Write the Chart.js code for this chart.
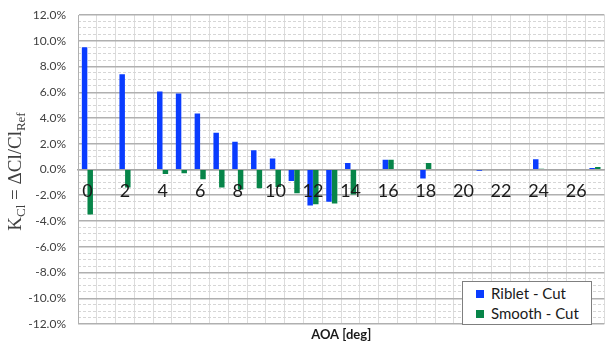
<!DOCTYPE html>
<html>
<head>
<meta charset="utf-8">
<script src="https://cdn.jsdelivr.net/npm/chart.js@4/dist/chart.umd.min.js"></script>
<style>
  html, body { margin: 0; padding: 0; background: #fff; }
  #wrap { position: relative; width: 606px; height: 346px; }
  #legend {
    position: absolute; left: 462px; top: 281px; width: 128px; height: 42px;
    border: 1.5px solid #7f7f7f; background: #fff;
    font-family: Lato, sans-serif; font-size: 15px; color: #1a1a1a;
  }
  #legend div { position: absolute; left: 13px; height: 20px; line-height: 20px; white-space: nowrap; }
  #legend span { display: inline-block; width: 8px; height: 8px; margin-right: 7px; vertical-align: 1px; }
</style>
</head>
<body>
<div id="wrap">
  <canvas id="chart" width="606" height="346"></canvas>
  <div id="legend"></div>
</div>
<script>
// AOA categories 0..27
const aoaLabels = ['0','1','2','3','4','5','6','7','8','9','10','11','12','13','14','15','16','17','18','19','20','21','22','23','24','25','26','27'];

// K_Cl in percent
const ribletCut = [9.5, null, 7.4, null, 6.05, 5.9, 4.35, 2.85, 2.15, 1.5, 0.85, -0.9, -2.8, -2.5, 0.5, null, 0.75, null, -0.7, null, null, -0.1, null, null, 0.8, null, null, 0.12];
const smoothCut = [-3.5, null, -1.4, null, -0.35, -0.3, -0.75, -1.4, -1.55, -1.45, -1.35, -1.85, -2.7, -2.65, -1.95, null, 0.75, null, 0.5, null, null, null, null, null, 0.05, null, null, 0.2];

const seriesNames = ['Riblet - Cut', 'Smooth - Cut'];
const seriesColors = ['#0a3cff', '#078549'];

// y title with subscripts, drawn on the canvas
const yTitlePlugin = {
  id: 'yTitle',
  afterDraw(chart) {
    const c = chart.ctx;
    const area = chart.chartArea;
    const parts = [
      ['K', 19, 0], ['Cl', 13, 4], [' = ΔCl/Cl', 19, 0], ['Ref', 13, 4]
    ];
    c.save();
    let total = 0;
    parts.forEach(p => { c.font = p[1] + 'px "Liberation Serif"'; total += c.measureText(p[0]).width; });
    c.translate(21, (area.top + area.bottom) / 2 + 2);
    c.rotate(-Math.PI / 2);
    c.fillStyle = '#404040';
    c.textBaseline = 'alphabetic';
    let x = -total / 2;
    parts.forEach(p => {
      c.font = p[1] + 'px "Liberation Serif"';
      c.fillText(p[0], x, p[2]);
      x += c.measureText(p[0]).width;
    });
    c.restore();
  }
};

const chart = new Chart(document.getElementById('chart').getContext('2d'), {
  type: 'bar',
  data: {
    labels: aoaLabels,
    datasets: [
      { label: seriesNames[0], data: ribletCut, backgroundColor: seriesColors[0] },
      { label: seriesNames[1], data: smoothCut, backgroundColor: seriesColors[1] }
    ]
  },
  options: {
    responsive: false,
    animation: false,
    layout: { padding: { top: 15, right: 0, left: 0, bottom: 0 } },
    datasets: { bar: { categoryPercentage: 0.6, barPercentage: 0.97 } },
    plugins: {
      legend: { display: false },
      tooltip: { enabled: false }
    },
    scales: {
      x: {
        position: { y: 0 },
        grid: { color: '#dcdcdc', lineWidth: 1, drawTicks: false },
        border: { color: '#a6a6a6', width: 1.5 },
        ticks: {
          z: 1,
          autoSkip: false, maxRotation: 0, padding: 11,
          color: '#1a1a1a',
          font: { family: 'Lato', size: 18 },
          callback: function (v, i) { return i % 2 === 0 ? this.getLabelForValue(v) : ''; }
        }
      },
      x2: {
        type: 'category',
        labels: aoaLabels,
        position: 'bottom',
        offset: true,
        grid: { display: false },
        border: { display: false },
        ticks: { display: false },
        title: {
          display: true, text: 'AOA [deg]', color: '#1a1a1a',
          font: { family: 'Lato', size: 13, weight: 'bold', lineHeight: 1.1 },
          padding: { top: 4, bottom: 4 }
        },
        afterFit: s => { s.height = 22; }
      },
      y2: {
        position: 'left',
        min: -12, max: 12,
        weight: 1,
        ticks: { display: false, stepSize: 0.5 },
        grid: {
          drawTicks: false,
          color: ctx => (ctx.tick && Math.abs(ctx.tick.value % 2) < 1e-6) ? 'rgba(0,0,0,0)' : '#d6d6d6',
          lineWidth: 1
        },
        border: { display: false, dash: [3, 2] },
        afterFit: s => { s.width = 0; s.paddingTop = 0; s.paddingBottom = 0; }
      },
      y: {
        position: 'left',
        min: -12, max: 12,
        weight: 0,
        ticks: {
          stepSize: 2, padding: 12, color: '#404040',
          font: { family: 'Lato', size: 12 },
          callback: v => v.toFixed(1) + '%'
        },
        grid: { color: '#b0b0b0', lineWidth: 1.5, drawTicks: false },
        border: { color: '#b0b0b0', width: 1 },
        afterFit: s => { s.width = 78; s.paddingTop = 0; s.paddingBottom = 0; }
      }
    }
  },
  plugins: [yTitlePlugin]
});

// legend box built from the datasets
const legendEl = document.getElementById('legend');
chart.data.datasets.forEach((ds, i) => {
  const row = document.createElement('div');
  row.style.top = (i === 0 ? 1 : 21) + 'px';
  row.innerHTML = '<span style="background:' + ds.backgroundColor + '"></span>' + ds.label;
  legendEl.appendChild(row);
});
</script>
</body>
</html>
